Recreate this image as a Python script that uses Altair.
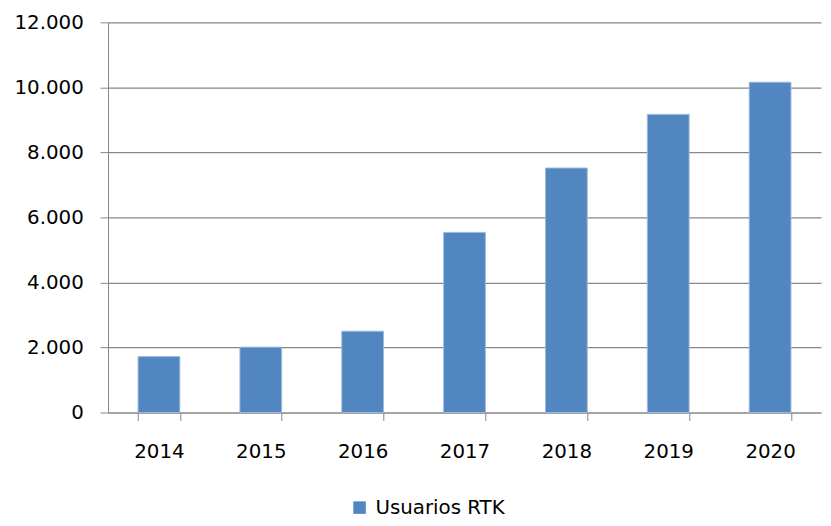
import altair as alt
import pandas as pd

years = ["2014", "2015", "2016", "2017", "2018", "2019", "2020"]
users = [1720, 2010, 2500, 5540, 7520, 9170, 10160]
series_name = "Usuarios RTK"
y_ticks = [0, 2000, 4000, 6000, 8000, 10000, 12000]

df = pd.DataFrame({"year": years, "users": users, "serie": [series_name] * len(years)})

FONT = "DejaVu Sans"
GRID = "#878787"
FS = 20

chart = (
    alt.Chart(df)
    .mark_bar(stroke="#9DB9DC", strokeWidth=1)
    .encode(
        x=alt.X(
            "year:N",
            sort=years,
            scale=alt.Scale(paddingInner=0.59, paddingOuter=0.295),
            axis=alt.Axis(
                title=None,
                labelAngle=0,
                tickBand="extent",
                tickSize=8,
                tickColor=GRID,
                domainColor=GRID,
                labelFont=FONT,
                labelFontSize=FS,
                labelColor="#000000",
                labelPadding=21,
                grid=False,
            ),
        ),
        y=alt.Y(
            "users:Q",
            scale=alt.Scale(domain=[0, 12000], nice=False),
            axis=alt.Axis(
                title=None,
                values=y_ticks,
                labelExpr="replace(format(datum.value, ','), ',', '.')",
                tickSize=8,
                tickColor=GRID,
                domainColor=GRID,
                gridColor=GRID,
                gridWidth=1.2,
                grid=True,
                labelFont=FONT,
                labelFontSize=FS,
                labelColor="#000000",
                labelPadding=17,
            ),
        ),
        color=alt.Color(
            "serie:N",
            scale=alt.Scale(range=["#5286C1"]),
            legend=alt.Legend(
                title=None,
                orient="none",
                legendX=244,
                legendY=480,
                symbolType="square",
                symbolSize=160,
                symbolStrokeWidth=0,
                labelFont=FONT,
                labelFontSize=FS,
                labelColor="#000000",
                padding=0,
                labelOffset=6,
            ),
        ),
    )
    .properties(
        width=720,
        height=394,
        autosize=alt.AutoSizeParams(type="none"),
        padding={"left": 101, "top": 12, "right": 2, "bottom": 104},
    )
    .configure_view(stroke=None)
)

chart.save("out.html", embed_options={"renderer": "svg", "actions": False})
